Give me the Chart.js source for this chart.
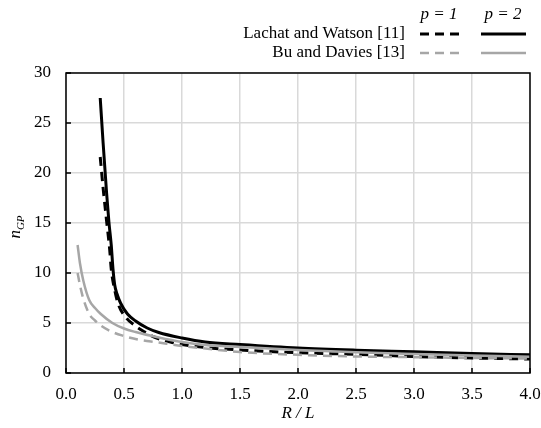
<!DOCTYPE html>
<html lang="en">
<head>
    <meta charset="UTF-8">
    <title>n_GP vs R / L</title>
    <script src="https://cdn.jsdelivr.net/npm/chart.js"></script>
    <style>
        html, body { margin: 0; padding: 0; background: #fff; }
        #wrap { width: 541px; height: 428px; }
    </style>
</head>
<body>
<div id="wrap"><canvas id="ngpChart" width="541" height="428"></canvas></div>
<script>
    // values
    const lwX1 = [0.295, 0.32, 0.35, 0.377, 0.39, 0.42, 0.45, 0.52, 0.6, 0.65, 0.76, 0.9, 1.0, 1.2, 1.5, 2.0, 2.5, 3.0, 3.5, 4.0];
    const lwP1 = [21.6, 18.5, 15.2, 12.3, 10.4, 8.3, 6.9, 5.5, 4.7, 4.3, 3.6, 3.1, 2.85, 2.55, 2.3, 2.03, 1.87, 1.65, 1.5, 1.4];

    const lwX2 = [0.295, 0.32, 0.35, 0.37, 0.39, 0.405, 0.42, 0.44, 0.47, 0.53, 0.6, 0.7, 0.8, 1.0, 1.2, 1.5, 2.0, 2.5, 3.0, 3.5, 4.0];
    const lwP2 = [27.5, 23.0, 18.0, 15.1, 12.8, 10.4, 8.8, 7.9, 7.0, 5.9, 5.2, 4.5, 4.05, 3.5, 3.1, 2.85, 2.5, 2.28, 2.12, 1.95, 1.82];

    const buX  = [0.10, 0.12, 0.15, 0.2, 0.25, 0.3, 0.4, 0.5, 0.6, 0.8, 1.0, 1.2, 1.5, 2.0, 2.5, 3.0, 3.5, 4.0];
    const buP1 = [10.0, 8.8, 7.4, 5.9, 5.25, 4.75, 4.1, 3.7, 3.4, 3.05, 2.7, 2.45, 2.1, 1.82, 1.65, 1.58, 1.5, 1.45];
    const buP2 = [12.8, 11.0, 9.2, 7.3, 6.5, 5.9, 5.0, 4.45, 4.1, 3.55, 3.1, 2.8, 2.6, 2.3, 2.07, 1.9, 1.75, 1.63];

    const BLACK = "#000000";
    const GREY = "#a6a6a6";
    const SERIF = "'Liberation Serif', 'Times New Roman', serif";
    const FS = 17;

    const pts = (xs, ys) => xs.map((x, i) => ({ x: x, y: ys[i] }));

    function line(label, data, color, dashed, width) {
        return {
            label: label,
            data: data,
            borderColor: color,
            backgroundColor: color,
            borderWidth: width,
            borderDash: dashed ? [9, 6] : [],
            pointRadius: 0,
            showLine: true,
            fill: false,
            cubicInterpolationMode: "monotone"
        };
    }

    // frame, inner ticks, axis title and legend
    const decorations = {
        id: "decorations",
        afterDatasetsDraw(chart) {
            const ctx = chart.ctx;
            const a = chart.chartArea;
            const xs = chart.scales.x, ys = chart.scales.y;
            ctx.save();
            ctx.strokeStyle = "#000";
            ctx.lineWidth = 1.5;
            ctx.strokeRect(a.left, a.top, a.right - a.left, a.bottom - a.top);
            ctx.beginPath();
            xs.ticks.forEach(t => {
                const px = xs.getPixelForValue(t.value);
                ctx.moveTo(px, a.bottom);
                ctx.lineTo(px, a.bottom - 5);
            });
            ys.ticks.forEach(t => {
                const py = ys.getPixelForValue(t.value);
                ctx.moveTo(a.left, py);
                ctx.lineTo(a.left + 5, py);
            });
            ctx.stroke();

            // y title: n with subscript GP
            ctx.save();
            ctx.translate(16, (a.top + a.bottom) / 2 + 4);
            ctx.rotate(-Math.PI / 2);
            ctx.fillStyle = "#000";
            ctx.textBaseline = "alphabetic";
            ctx.font = "italic 17px " + SERIF;
            const nW = ctx.measureText("n").width;
            ctx.font = "italic 11px " + SERIF;
            const gW = ctx.measureText("GP").width;
            const start = -(nW + gW) / 2;
            ctx.font = "italic 17px " + SERIF;
            ctx.textAlign = "left";
            ctx.fillText("n", start, 4);
            ctx.font = "italic 11px " + SERIF;
            ctx.fillText("GP", start + nW, 8);
            ctx.restore();

            // legend
            ctx.fillStyle = "#000";
            ctx.font = "italic " + FS + "px " + SERIF;
            ctx.textAlign = "center";
            ctx.textBaseline = "middle";
            ctx.fillText("p = 1", 439, 15);
            ctx.fillText("p = 2", 503, 15);
            ctx.font = FS + "px " + SERIF;
            ctx.textAlign = "right";
            ctx.fillText("Lachat and Watson [11]", 405, 34);
            ctx.fillText("Bu and Davies [13]", 405, 53);
            const sample = (y, color, dashed, w, x0, x1) => {
                ctx.beginPath();
                ctx.strokeStyle = color;
                ctx.lineWidth = w;
                ctx.setLineDash(dashed ? [9, 6] : []);
                ctx.moveTo(x0, y);
                ctx.lineTo(x1, y);
                ctx.stroke();
            };
            sample(34, BLACK, true, 3, 420, 465);
            sample(34, BLACK, false, 3, 481, 526);
            sample(53, GREY, true, 2.5, 420, 465);
            sample(53, GREY, false, 2.5, 481, 526);
            ctx.restore();
        }
    };

    new Chart(document.getElementById("ngpChart"), {
        type: "scatter",
        data: {
            datasets: [
                line("Bu and Davies [13] p = 1", pts(buX, buP1), GREY, true, 2.5),
                line("Bu and Davies [13] p = 2", pts(buX, buP2), GREY, false, 2.5),
                line("Lachat and Watson [11] p = 1", pts(lwX1, lwP1), BLACK, true, 3),
                line("Lachat and Watson [11] p = 2", pts(lwX2, lwP2), BLACK, false, 3)
            ]
        },
        options: {
            responsive: false,
            animation: false,
            layout: { padding: { top: 73, right: 0, left: 0, bottom: 0 } },
            plugins: {
                legend: { display: false },
                tooltip: { enabled: false }
            },
            scales: {
                x: {
                    type: "linear",
                    min: 0, max: 4,
                    afterFit: s => {
                        s.height = 55;
                        s.paddingLeft = 0;
                        s.paddingRight = 11;
                    },
                    ticks: {
                        stepSize: 0.5,
                        color: "#000",
                        font: { family: SERIF, size: FS },
                        padding: 11,
                        maxRotation: 0,
                        callback: v => v.toFixed(1)
                    },
                    grid: { color: "#d9d9d9", lineWidth: 1.5, drawTicks: false },
                    border: { display: false },
                    title: {
                        display: true,
                        text: "R / L",
                        color: "#000",
                        font: { family: SERIF, size: FS, style: "italic" },
                        padding: { top: 6 }
                    }
                },
                y: {
                    min: 0, max: 30,
                    afterFit: s => { s.width = 66; },
                    ticks: {
                        stepSize: 5,
                        color: "#000",
                        font: { family: SERIF, size: FS },
                        padding: 15
                    },
                    grid: { color: "#d9d9d9", lineWidth: 1.5, drawTicks: false },
                    border: { display: false }
                }
            }
        },
        plugins: [decorations]
    });
</script>
</body>
</html>
